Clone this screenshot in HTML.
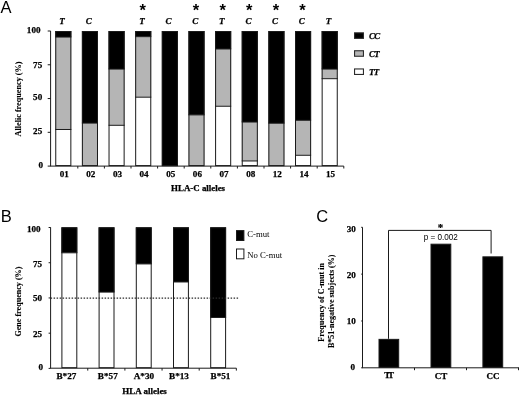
<!DOCTYPE html>
<html><head><meta charset="utf-8"><title>Figure</title>
<style>
html,body{margin:0;padding:0;background:#fff;}
body{width:520px;height:395px;overflow:hidden;}
svg{display:block;}
text{font-family:"Liberation Serif",serif;fill:#000;}
.b{font-weight:bold;stroke:#000;stroke-width:0.25px;}
.s{font-family:"Liberation Sans",sans-serif;}
.i{font-style:italic;}
.t{font-weight:bold;stroke:#000;stroke-width:0.1px;}
</style></head><body>
<svg width="520" height="395" viewBox="0 0 520 395">
<rect x="0" y="0" width="520" height="395" fill="#fff"/>

<text x="0.60" y="13.00" font-size="16.5" class="s" text-anchor="start" >A</text>
<rect x="55.25" y="31.00" width="16.10" height="6.08" fill="#000"/>
<rect x="55.25" y="37.08" width="16.10" height="92.41" fill="#b5b5b5"/>
<rect x="55.25" y="129.49" width="16.10" height="36.61" fill="#fff"/>
<rect x="55.75" y="31.50" width="15.10" height="134.10" fill="none" stroke="#1a1a1a" stroke-width="1.0"/>
<line x1="55.25" y1="37.08" x2="71.35" y2="37.08" stroke="#1a1a1a" stroke-width="1.0" />
<line x1="55.25" y1="129.49" x2="71.35" y2="129.49" stroke="#1a1a1a" stroke-width="1.0" />
<text x="64.20" y="177.30" font-size="9.1" class="b" text-anchor="middle" >01</text>
<text x="62.00" y="24.30" font-size="9.0" class="b i" text-anchor="middle" >T</text>
<rect x="81.89" y="31.00" width="16.10" height="92.14" fill="#000"/>
<rect x="81.89" y="123.14" width="16.10" height="42.96" fill="#b5b5b5"/>
<rect x="82.39" y="31.50" width="15.10" height="134.10" fill="none" stroke="#1a1a1a" stroke-width="1.0"/>
<line x1="81.89" y1="123.14" x2="97.99" y2="123.14" stroke="#1a1a1a" stroke-width="1.0" />
<text x="90.84" y="177.30" font-size="9.1" class="b" text-anchor="middle" >02</text>
<text x="88.64" y="24.30" font-size="9.0" class="b i" text-anchor="middle" >C</text>
<rect x="108.53" y="31.00" width="16.10" height="38.10" fill="#000"/>
<rect x="108.53" y="69.10" width="16.10" height="56.20" fill="#b5b5b5"/>
<rect x="108.53" y="125.30" width="16.10" height="40.80" fill="#fff"/>
<rect x="109.03" y="31.50" width="15.10" height="134.10" fill="none" stroke="#1a1a1a" stroke-width="1.0"/>
<line x1="108.53" y1="69.10" x2="124.63" y2="69.10" stroke="#1a1a1a" stroke-width="1.0" />
<line x1="108.53" y1="125.30" x2="124.63" y2="125.30" stroke="#1a1a1a" stroke-width="1.0" />
<text x="117.48" y="177.30" font-size="9.1" class="b" text-anchor="middle" >03</text>
<rect x="135.17" y="31.00" width="16.10" height="5.67" fill="#000"/>
<rect x="135.17" y="36.67" width="16.10" height="60.52" fill="#b5b5b5"/>
<rect x="135.17" y="97.20" width="16.10" height="68.90" fill="#fff"/>
<rect x="135.67" y="31.50" width="15.10" height="134.10" fill="none" stroke="#1a1a1a" stroke-width="1.0"/>
<line x1="135.17" y1="36.67" x2="151.27" y2="36.67" stroke="#1a1a1a" stroke-width="1.0" />
<line x1="135.17" y1="97.20" x2="151.27" y2="97.20" stroke="#1a1a1a" stroke-width="1.0" />
<text x="144.12" y="177.30" font-size="9.1" class="b" text-anchor="middle" >04</text>
<text x="141.92" y="24.30" font-size="9.0" class="b i" text-anchor="middle" >T</text>
<text x="142.72" y="16.20" font-size="16.5" class="s" text-anchor="middle" font-weight="bold">*</text>
<rect x="161.81" y="31.00" width="16.10" height="135.10" fill="#000"/>
<rect x="162.31" y="31.50" width="15.10" height="134.10" fill="none" stroke="#1a1a1a" stroke-width="1.0"/>
<text x="170.76" y="177.30" font-size="9.1" class="b" text-anchor="middle" >05</text>
<text x="168.56" y="24.30" font-size="9.0" class="b i" text-anchor="middle" >C</text>
<rect x="188.45" y="31.00" width="16.10" height="83.90" fill="#000"/>
<rect x="188.45" y="114.90" width="16.10" height="51.20" fill="#b5b5b5"/>
<rect x="188.95" y="31.50" width="15.10" height="134.10" fill="none" stroke="#1a1a1a" stroke-width="1.0"/>
<line x1="188.45" y1="114.90" x2="204.55" y2="114.90" stroke="#1a1a1a" stroke-width="1.0" />
<text x="197.40" y="177.30" font-size="9.1" class="b" text-anchor="middle" >06</text>
<text x="195.20" y="24.30" font-size="9.0" class="b i" text-anchor="middle" >C</text>
<text x="196.00" y="16.20" font-size="16.5" class="s" text-anchor="middle" font-weight="bold">*</text>
<rect x="215.09" y="31.00" width="16.10" height="17.97" fill="#000"/>
<rect x="215.09" y="48.97" width="16.10" height="57.28" fill="#b5b5b5"/>
<rect x="215.09" y="106.25" width="16.10" height="59.85" fill="#fff"/>
<rect x="215.59" y="31.50" width="15.10" height="134.10" fill="none" stroke="#1a1a1a" stroke-width="1.0"/>
<line x1="215.09" y1="48.97" x2="231.19" y2="48.97" stroke="#1a1a1a" stroke-width="1.0" />
<line x1="215.09" y1="106.25" x2="231.19" y2="106.25" stroke="#1a1a1a" stroke-width="1.0" />
<text x="224.04" y="177.30" font-size="9.1" class="b" text-anchor="middle" >07</text>
<text x="221.84" y="24.30" font-size="9.0" class="b i" text-anchor="middle" >T</text>
<text x="222.64" y="16.20" font-size="16.5" class="s" text-anchor="middle" font-weight="bold">*</text>
<rect x="241.73" y="31.00" width="16.10" height="91.06" fill="#000"/>
<rect x="241.73" y="122.06" width="16.10" height="38.91" fill="#b5b5b5"/>
<rect x="241.73" y="160.97" width="16.10" height="5.13" fill="#fff"/>
<rect x="242.23" y="31.50" width="15.10" height="134.10" fill="none" stroke="#1a1a1a" stroke-width="1.0"/>
<line x1="241.73" y1="122.06" x2="257.83" y2="122.06" stroke="#1a1a1a" stroke-width="1.0" />
<line x1="241.73" y1="160.97" x2="257.83" y2="160.97" stroke="#1a1a1a" stroke-width="1.0" />
<text x="250.68" y="177.30" font-size="9.1" class="b" text-anchor="middle" >08</text>
<text x="248.48" y="24.30" font-size="9.0" class="b i" text-anchor="middle" >C</text>
<text x="249.28" y="16.20" font-size="16.5" class="s" text-anchor="middle" font-weight="bold">*</text>
<rect x="268.37" y="31.00" width="16.10" height="92.27" fill="#000"/>
<rect x="268.37" y="123.27" width="16.10" height="42.83" fill="#b5b5b5"/>
<rect x="268.87" y="31.50" width="15.10" height="134.10" fill="none" stroke="#1a1a1a" stroke-width="1.0"/>
<line x1="268.37" y1="123.27" x2="284.47" y2="123.27" stroke="#1a1a1a" stroke-width="1.0" />
<text x="277.32" y="177.30" font-size="9.1" class="b" text-anchor="middle" >12</text>
<text x="275.12" y="24.30" font-size="9.0" class="b i" text-anchor="middle" >C</text>
<text x="275.92" y="16.20" font-size="16.5" class="s" text-anchor="middle" font-weight="bold">*</text>
<rect x="295.01" y="31.00" width="16.10" height="89.30" fill="#000"/>
<rect x="295.01" y="120.30" width="16.10" height="34.99" fill="#b5b5b5"/>
<rect x="295.01" y="155.29" width="16.10" height="10.81" fill="#fff"/>
<rect x="295.51" y="31.50" width="15.10" height="134.10" fill="none" stroke="#1a1a1a" stroke-width="1.0"/>
<line x1="295.01" y1="120.30" x2="311.11" y2="120.30" stroke="#1a1a1a" stroke-width="1.0" />
<line x1="295.01" y1="155.29" x2="311.11" y2="155.29" stroke="#1a1a1a" stroke-width="1.0" />
<text x="303.96" y="177.30" font-size="9.1" class="b" text-anchor="middle" >14</text>
<text x="301.76" y="24.30" font-size="9.0" class="b i" text-anchor="middle" >C</text>
<text x="302.56" y="16.20" font-size="16.5" class="s" text-anchor="middle" font-weight="bold">*</text>
<rect x="321.65" y="31.00" width="16.10" height="38.10" fill="#000"/>
<rect x="321.65" y="69.10" width="16.10" height="9.59" fill="#b5b5b5"/>
<rect x="321.65" y="78.69" width="16.10" height="87.41" fill="#fff"/>
<rect x="322.15" y="31.50" width="15.10" height="134.10" fill="none" stroke="#1a1a1a" stroke-width="1.0"/>
<line x1="321.65" y1="69.10" x2="337.75" y2="69.10" stroke="#1a1a1a" stroke-width="1.0" />
<line x1="321.65" y1="78.69" x2="337.75" y2="78.69" stroke="#1a1a1a" stroke-width="1.0" />
<text x="330.60" y="177.30" font-size="9.1" class="b" text-anchor="middle" >15</text>
<text x="328.40" y="24.30" font-size="9.0" class="b i" text-anchor="middle" >T</text>
<line x1="50.60" y1="31.00" x2="50.60" y2="166.10" stroke="#1a1a1a" stroke-width="1.0" />
<line x1="50.20" y1="166.10" x2="343.80" y2="166.10" stroke="#1a1a1a" stroke-width="1.0" />
<line x1="47.70" y1="166.10" x2="50.60" y2="166.10" stroke="#1a1a1a" stroke-width="1.0" />
<text x="43.10" y="168.40" font-size="9.1" class="b" text-anchor="end" >0</text>
<line x1="47.70" y1="132.32" x2="50.60" y2="132.32" stroke="#1a1a1a" stroke-width="1.0" />
<text x="42.20" y="134.10" font-size="9.1" class="b" text-anchor="end" >25</text>
<line x1="47.70" y1="98.55" x2="50.60" y2="98.55" stroke="#1a1a1a" stroke-width="1.0" />
<text x="42.20" y="100.30" font-size="9.1" class="b" text-anchor="end" >50</text>
<line x1="47.70" y1="64.77" x2="50.60" y2="64.77" stroke="#1a1a1a" stroke-width="1.0" />
<text x="42.20" y="67.90" font-size="9.1" class="b" text-anchor="end" >75</text>
<line x1="47.70" y1="31.00" x2="50.60" y2="31.00" stroke="#1a1a1a" stroke-width="1.0" />
<text x="40.50" y="33.10" font-size="9.1" class="b" text-anchor="end" >100</text>
<line x1="77.80" y1="166.10" x2="77.80" y2="168.50" stroke="#1a1a1a" stroke-width="1.0" />
<line x1="104.40" y1="166.10" x2="104.40" y2="168.50" stroke="#1a1a1a" stroke-width="1.0" />
<line x1="131.00" y1="166.10" x2="131.00" y2="168.50" stroke="#1a1a1a" stroke-width="1.0" />
<line x1="157.60" y1="166.10" x2="157.60" y2="168.50" stroke="#1a1a1a" stroke-width="1.0" />
<line x1="184.20" y1="166.10" x2="184.20" y2="168.50" stroke="#1a1a1a" stroke-width="1.0" />
<line x1="210.80" y1="166.10" x2="210.80" y2="168.50" stroke="#1a1a1a" stroke-width="1.0" />
<line x1="237.40" y1="166.10" x2="237.40" y2="168.50" stroke="#1a1a1a" stroke-width="1.0" />
<line x1="264.00" y1="166.10" x2="264.00" y2="168.50" stroke="#1a1a1a" stroke-width="1.0" />
<line x1="290.60" y1="166.10" x2="290.60" y2="168.50" stroke="#1a1a1a" stroke-width="1.0" />
<line x1="317.20" y1="166.10" x2="317.20" y2="168.50" stroke="#1a1a1a" stroke-width="1.0" />
<line x1="343.80" y1="166.10" x2="343.80" y2="168.50" stroke="#1a1a1a" stroke-width="1.0" />
<text x="20.50" y="99.00" font-size="8.2" class="t" text-anchor="middle" transform="rotate(-90 20.5 99)">Allelic frequency (%)</text>
<text x="198.10" y="190.90" font-size="8.9" class="b" text-anchor="middle" >HLA-C alleles</text>
<rect x="354.55" y="32.85" width="8.90" height="5.50" fill="#000" stroke="#2b2b2b" stroke-width="1.1"/>
<text x="368.90" y="39.20" font-size="8.9" class="b i" text-anchor="start" letter-spacing="-0.5">CC</text>
<rect x="354.55" y="50.75" width="8.90" height="5.50" fill="#b5b5b5" stroke="#2b2b2b" stroke-width="1.1"/>
<text x="368.90" y="57.10" font-size="8.9" class="b i" text-anchor="start" letter-spacing="-0.5">CT</text>
<rect x="354.55" y="68.95" width="8.90" height="5.50" fill="#fff" stroke="#2b2b2b" stroke-width="1.1"/>
<text x="368.90" y="75.30" font-size="8.9" class="b i" text-anchor="start" letter-spacing="-0.5">TT</text>
<text x="0.80" y="221.70" font-size="16.5" class="s" text-anchor="start" >B</text>
<rect x="61.40" y="227.30" width="15.90" height="25.50" fill="#000"/>
<rect x="61.40" y="252.80" width="15.90" height="115.40" fill="#fff"/>
<rect x="61.90" y="227.80" width="14.90" height="139.90" fill="none" stroke="#1a1a1a" stroke-width="1.0"/>
<line x1="61.40" y1="252.80" x2="77.30" y2="252.80" stroke="#1a1a1a" stroke-width="1.0" />
<text x="66.40" y="378.60" font-size="9.2" class="b" text-anchor="middle" >B*27</text>
<rect x="98.60" y="227.30" width="15.90" height="64.81" fill="#000"/>
<rect x="98.60" y="292.11" width="15.90" height="76.09" fill="#fff"/>
<rect x="99.10" y="227.80" width="14.90" height="139.90" fill="none" stroke="#1a1a1a" stroke-width="1.0"/>
<line x1="98.60" y1="292.11" x2="114.50" y2="292.11" stroke="#1a1a1a" stroke-width="1.0" />
<text x="107.80" y="378.60" font-size="9.2" class="b" text-anchor="middle" >B*57</text>
<rect x="135.80" y="227.30" width="15.90" height="36.63" fill="#000"/>
<rect x="135.80" y="263.93" width="15.90" height="104.27" fill="#fff"/>
<rect x="136.30" y="227.80" width="14.90" height="139.90" fill="none" stroke="#1a1a1a" stroke-width="1.0"/>
<line x1="135.80" y1="263.93" x2="151.70" y2="263.93" stroke="#1a1a1a" stroke-width="1.0" />
<text x="143.90" y="378.60" font-size="9.2" class="b" text-anchor="middle" >A*30</text>
<rect x="173.00" y="227.30" width="15.90" height="54.67" fill="#000"/>
<rect x="173.00" y="281.97" width="15.90" height="86.23" fill="#fff"/>
<rect x="173.50" y="227.80" width="14.90" height="139.90" fill="none" stroke="#1a1a1a" stroke-width="1.0"/>
<line x1="173.00" y1="281.97" x2="188.90" y2="281.97" stroke="#1a1a1a" stroke-width="1.0" />
<text x="179.00" y="378.60" font-size="9.2" class="b" text-anchor="middle" >B*13</text>
<rect x="210.20" y="227.30" width="15.90" height="90.18" fill="#000"/>
<rect x="210.20" y="317.48" width="15.90" height="50.72" fill="#fff"/>
<rect x="210.70" y="227.80" width="14.90" height="139.90" fill="none" stroke="#1a1a1a" stroke-width="1.0"/>
<line x1="210.20" y1="317.48" x2="226.10" y2="317.48" stroke="#1a1a1a" stroke-width="1.0" />
<text x="220.50" y="378.60" font-size="9.2" class="b" text-anchor="middle" >B*51</text>
<line x1="50.60" y1="227.30" x2="50.60" y2="368.20" stroke="#1a1a1a" stroke-width="1.0" />
<line x1="50.20" y1="368.20" x2="236.40" y2="368.20" stroke="#1a1a1a" stroke-width="1.0" />
<line x1="48.60" y1="368.40" x2="50.60" y2="368.40" stroke="#1a1a1a" stroke-width="1.0" />
<text x="43.10" y="369.60" font-size="9.1" class="b" text-anchor="end" >0</text>
<line x1="48.60" y1="333.18" x2="50.60" y2="333.18" stroke="#1a1a1a" stroke-width="1.0" />
<text x="42.10" y="337.20" font-size="9.1" class="b" text-anchor="end" >25</text>
<line x1="48.60" y1="297.95" x2="50.60" y2="297.95" stroke="#1a1a1a" stroke-width="1.0" />
<text x="42.10" y="301.10" font-size="9.1" class="b" text-anchor="end" >50</text>
<line x1="48.60" y1="262.72" x2="50.60" y2="262.72" stroke="#1a1a1a" stroke-width="1.0" />
<text x="42.10" y="267.20" font-size="9.1" class="b" text-anchor="end" >75</text>
<line x1="48.60" y1="227.50" x2="50.60" y2="227.50" stroke="#1a1a1a" stroke-width="1.0" />
<text x="40.60" y="231.85" font-size="9.1" class="b" text-anchor="end" >100</text>
<line x1="87.75" y1="368.20" x2="87.75" y2="370.60" stroke="#1a1a1a" stroke-width="1.0" />
<line x1="124.90" y1="368.20" x2="124.90" y2="370.60" stroke="#1a1a1a" stroke-width="1.0" />
<line x1="162.05" y1="368.20" x2="162.05" y2="370.60" stroke="#1a1a1a" stroke-width="1.0" />
<line x1="199.20" y1="368.20" x2="199.20" y2="370.60" stroke="#1a1a1a" stroke-width="1.0" />
<line x1="236.35" y1="368.20" x2="236.35" y2="370.60" stroke="#1a1a1a" stroke-width="1.0" />
<line x1="50.60" y1="298.05" x2="238.50" y2="298.05" stroke="#2a2a2a" stroke-width="1.3" stroke-dasharray="1.5 1.5"/>
<text x="21.00" y="301.60" font-size="8.1" class="t" text-anchor="middle" transform="rotate(-90 21.0 301.6)">Gene frequency (%)</text>
<text x="144.50" y="393.90" font-size="9.0" class="b" text-anchor="middle" >HLA alleles</text>
<rect x="236.50" y="230.60" width="7.40" height="9.90" fill="#000" stroke="#1a1a1a" stroke-width="1.0"/>
<rect x="236.50" y="249.00" width="7.40" height="9.80" fill="#fff" stroke="#1a1a1a" stroke-width="1.0"/>
<text x="247.20" y="236.60" font-size="8.7" class="" text-anchor="start" >C-mut</text>
<text x="247.20" y="258.20" font-size="8.7" class="" text-anchor="start" >No C-mut</text>
<text x="316.30" y="222.10" font-size="16.5" class="s" text-anchor="start" >C</text>
<rect x="379.00" y="339.36" width="19.70" height="27.94" fill="#000" stroke="#1a1a1a" stroke-width="1.0"/>
<rect x="431.00" y="244.19" width="19.80" height="123.11" fill="#000" stroke="#1a1a1a" stroke-width="1.0"/>
<rect x="482.90" y="256.84" width="19.80" height="110.46" fill="#000" stroke="#1a1a1a" stroke-width="1.0"/>
<line x1="362.50" y1="227.30" x2="362.50" y2="367.80" stroke="#1a1a1a" stroke-width="1.0" />
<line x1="362.10" y1="367.80" x2="519.00" y2="367.80" stroke="#1a1a1a" stroke-width="1.0" />
<line x1="361.20" y1="367.80" x2="362.50" y2="367.80" stroke="#1a1a1a" stroke-width="1.0" />
<text x="355.00" y="369.70" font-size="9.1" class="b" text-anchor="end" >0</text>
<line x1="361.20" y1="320.97" x2="362.50" y2="320.97" stroke="#1a1a1a" stroke-width="1.0" />
<text x="355.90" y="323.70" font-size="9.1" class="b" text-anchor="end" >10</text>
<line x1="361.20" y1="274.13" x2="362.50" y2="274.13" stroke="#1a1a1a" stroke-width="1.0" />
<text x="355.90" y="277.70" font-size="9.1" class="b" text-anchor="end" >20</text>
<line x1="361.20" y1="227.30" x2="362.50" y2="227.30" stroke="#1a1a1a" stroke-width="1.0" />
<text x="355.90" y="231.70" font-size="9.1" class="b" text-anchor="end" >30</text>
<line x1="414.50" y1="367.80" x2="414.50" y2="370.20" stroke="#1a1a1a" stroke-width="1.0" />
<line x1="466.50" y1="367.80" x2="466.50" y2="370.20" stroke="#1a1a1a" stroke-width="1.0" />
<line x1="518.50" y1="367.80" x2="518.50" y2="370.20" stroke="#1a1a1a" stroke-width="1.0" />
<text x="388.00" y="378.30" font-size="9.1" class="b" text-anchor="middle" letter-spacing="-2.2">TT</text>
<text x="440.90" y="378.60" font-size="9.0" class="b" text-anchor="middle" >CT</text>
<text x="492.90" y="378.60" font-size="9.0" class="b" text-anchor="middle" >CC</text>
<polyline points="388.5,338.8 388.5,230.4 491.1,230.4 491.1,253.5" fill="none" stroke="#1a1a1a" stroke-width="1.0"/>
<text x="440.40" y="230.70" font-size="10.8" class="b" text-anchor="middle" >*</text>
<text x="440.80" y="239.70" font-size="9.0" class="s" text-anchor="middle" textLength="34.2" lengthAdjust="spacingAndGlyphs">p = 0.002</text>
<text x="324.10" y="302.30" font-size="8.1" class="t" text-anchor="middle" transform="rotate(-90 324.1 302.3)">Frequency of C-mut in</text>
<text x="333.80" y="301.30" font-size="8.0" class="t" text-anchor="middle" transform="rotate(-90 333.8 301.3)">B*51-negative subjects (%)</text>
</svg></body></html>
